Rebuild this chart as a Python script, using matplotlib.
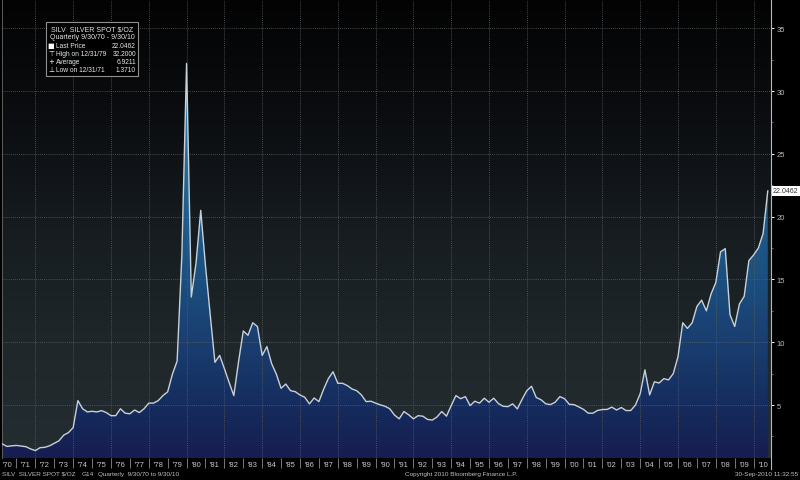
"""
Silver spot price, quarterly 1970-2010, Bloomberg terminal look.
"""
import numpy as np
import matplotlib.pyplot as plt
from matplotlib.colors import LinearSegmentedColormap
from matplotlib.patches import Rectangle
from matplotlib.lines import Line2D
from matplotlib.ticker import FixedLocator, NullFormatter

plt.rcParams['font.family'] = ['Liberation Sans', 'DejaVu Sans']

# quarter ends as decimal years (1970.25 = 3/31/70 ... 2010.75 = 9/30/10)
quarter_ends = np.arange(1970.25, 2010.76, 0.25)
silver_price = [
    1.90, 1.70, 1.75,
    1.78, 1.73, 1.68, 1.50,      # 1971
    1.371, 1.60, 1.63, 1.75,     # 1972
    1.95, 2.15, 2.60, 2.80,      # 1973
    3.20, 5.35, 4.70, 4.45,      # 1974
    4.50, 4.45, 4.55, 4.40,      # 1975
    4.15, 4.15, 4.70, 4.35,      # 1976
    4.30, 4.60, 4.40, 4.70,      # 1977
    5.15, 5.15, 5.35, 5.75,      # 1978
    6.05, 7.45, 8.50, 16.90,     # 1979
    32.20, 13.60, 16.30, 20.50,  # 1980
    16.10, 12.20, 8.40, 8.95,    # 1981
    7.90, 6.80, 5.75, 8.45,      # 1982
    10.90, 10.55, 11.55, 11.25,  # 1983
    8.95, 9.65, 8.30, 7.45,      # 1984
    6.33, 6.67, 6.14, 6.06,      # 1985
    5.80, 5.62, 5.09, 5.56,      # 1986
    5.27, 6.25, 7.10, 7.65,      # 1987
    6.73, 6.73, 6.55, 6.28,      # 1988
    6.14, 5.80, 5.27, 5.30,      # 1989
    5.15, 5.01, 4.90, 4.70,      # 1990
    4.20, 3.90, 4.48, 4.22,      # 1991
    3.90, 4.15, 4.11, 3.85,      # 1992
    3.80, 4.05, 4.48, 4.11,      # 1993
    4.95, 5.75, 5.50, 5.67,      # 1994
    4.95, 5.30, 5.15, 5.54,      # 1995
    5.22, 5.54, 5.11, 4.90,      # 1996
    4.87, 5.09, 4.69, 5.45,      # 1997
    6.14, 6.49, 5.60, 5.42,      # 1998
    5.10, 5.03, 5.22, 5.67,      # 1999
    5.50, 5.05, 5.03, 4.85,      # 2000
    4.65, 4.35, 4.35, 4.57,      # 2001
    4.64, 4.65, 4.83, 4.60,      # 2002
    4.80, 4.56, 4.56, 5.00,      # 2003
    5.90, 7.80, 5.80, 6.85,      # 2004
    6.75, 7.10, 7.00, 7.50,      # 2005
    8.85, 11.55, 11.10, 11.55,   # 2006
    12.85, 13.35, 12.50, 13.85,  # 2007
    14.75, 17.20, 17.45, 12.20,  # 2008
    11.25, 13.05, 13.65, 16.50,  # 2009
    16.95, 17.50, 18.65, 22.0462,  # 2010
]

label_years = np.arange(1970, 2011)
year_labels = ["'%02d" % (y % 100) for y in label_years]
grid_years = np.arange(1972, 2011, 2)
price_ticks = [5, 10, 15, 20, 25, 30, 35]

legend_title = 'SILV  SILVER SPOT $/OZ'
legend_period = 'Quarterly 9/30/70 - 9/30/10'
legend_rows = [('\u25A0', 'Last Price', '22.0462'),
               ('\u22A4', 'High on 12/31/79', '32.2000'),
               ('+', 'Average', '6.9211'),
               ('\u22A5', 'Low on 12/31/71', '1.3710')]
last_price = 22.0462

xmin, xmax = 1970.235, 2010.92
ymin, ymax = 0.78, 37.29

fig = plt.figure(figsize=(8.0, 4.81), dpi=100, facecolor='black')
ax = fig.add_axes([2/800, 22/481, 769/800, 458.5/481])
ax.set_facecolor('black')

# background gradient (black at top, dark slate at bottom)
bg_cmap = LinearSegmentedColormap.from_list(
    'bg', [(0, '#242d31'), (0.25, '#1f272b'), (0.5, '#161c20'),
           (0.75, '#0b0d10'), (1, '#030303')])
grad = np.linspace(0, 1, 256).reshape(-1, 1)
ax.imshow(grad, cmap=bg_cmap, origin='lower', aspect='auto',
          extent=[xmin, xmax, ymin, ymax], zorder=0)

# area fill, blue gradient clipped to the series
fill_cmap = LinearSegmentedColormap.from_list(
    'fill', [(0, '#171d50'), (0.1, '#152a5c'), (0.25, '#1a3e70'),
             (0.4, '#1b5080'), (0.55, '#1e5f8e'), (0.75, '#2a7aa6'),
             (0.9, '#5a96b8'), (1, '#8fb0c8')])
poly = ax.fill_between(quarter_ends, ymin, silver_price,
                       facecolor='none', edgecolor='none')
img = ax.imshow(grad, cmap=fill_cmap, origin='lower', aspect='auto',
                extent=[xmin, xmax, ymin, ymax], zorder=1)
img.set_clip_path(poly.get_paths()[0], ax.transData)

ax.plot(quarter_ends, silver_price, color='#c8d0d8', lw=1.0, zorder=3)

# grid
for gy in grid_years:
    ax.axvline(gy, color='#5a6064', lw=0.6, ls=(0, (1, 1.5)), zorder=2)
for py in price_ticks:
    ax.axhline(py, color='#5a6064', lw=0.6, ls=(0, (1, 1.5)), zorder=2)

ax.set_xlim(xmin, xmax)
ax.set_ylim(ymin, ymax)

# x axis: labels mid-year, separators at year boundaries
ax.xaxis.set_major_locator(FixedLocator(label_years + 0.5))
ax.set_xticklabels(year_labels)
ax.xaxis.set_minor_locator(FixedLocator(label_years[1:]))
ax.xaxis.set_minor_formatter(NullFormatter())
ax.tick_params(axis='x', which='major', length=0, pad=2.5,
               labelsize=5.5, labelcolor='#c8c8c8')
ax.tick_params(axis='x', which='minor', length=7, width=0.6,
               color='#8a8a8a', direction='out')

# y axis on the right
ax.yaxis.tick_right()
ax.yaxis.set_major_locator(FixedLocator(price_ticks))
ax.yaxis.set_minor_locator(FixedLocator(np.arange(2.5, 37, 5)))
ax.tick_params(axis='y', which='major', length=2.5, width=0.7,
               color='white', pad=1.5, labelsize=5.5, labelcolor='#bcbcbc')
ax.tick_params(axis='y', which='minor', length=1.5, width=0.5,
               color='#909090')

for side in ['top', 'bottom']:
    ax.spines[side].set_visible(False)
ax.spines['right'].set_color('#b8b8b8')
ax.spines['right'].set_linewidth(0.8)
ax.spines['left'].set_color('#6a6a6a')
ax.spines['left'].set_linewidth(0.6)
fig.add_artist(Line2D([771/800, 771/800], [11/481, 22/481],
                      color='#b8b8b8', lw=0.8))

# last price tag
ax.annotate('%.4f' % last_price, xy=(1.0, last_price),
            xycoords=('axes fraction', 'data'), xytext=(1.5, 0),
            textcoords='offset points', ha='left', va='center',
            fontsize=5, color='#303030', annotation_clip=False,
            bbox=dict(boxstyle='square,pad=0.2', fc='white', ec='none'))

# legend box
fig.add_artist(Rectangle((45.7/800, 1 - 76.7/481), 92.6/800, 54/481,
                         transform=fig.transFigure, fc='black', alpha=0.85,
                         ec='#a8a8a8', lw=0.8))
tc = '#e6e6e6'
fig.text(92/800, 1 - 29.5/481, legend_title, fontsize=5.0, color=tc,
         ha='center', va='center')
fig.text(92/800, 1 - 37.5/481, legend_period, fontsize=5.0, color=tc,
         ha='center', va='center')
for k, (mark, name, val) in enumerate(legend_rows):
    yy = 1 - (46 + k * 8.1) / 481
    fig.text(51/800, yy, mark, fontsize=5.0, color='white',
             ha='center', va='center', family=['DejaVu Sans'])
    fig.text(55.5/800, yy, name, fontsize=4.8, color=tc, ha='left',
             va='center')
    fig.text(136/800, yy, val, fontsize=4.8, color=tc, ha='right',
             va='center')

# footer
fc = '#c0c0c0'
ff = 4.6
fig.text(2/800, 4/481, 'SILV  SILVER SPOT $/OZ', fontsize=ff, color=fc,
         ha='left', va='bottom')
fig.text(82/800, 4/481, 'G14', fontsize=ff, color=fc, ha='left',
         va='bottom')
fig.text(98/800, 4/481, 'Quarterly  9/30/70 to 9/30/10', fontsize=ff,
         color=fc, ha='left', va='bottom')
fig.text(405/800, 4/481, 'Copyright 2010 Bloomberg Finance L.P.',
         fontsize=ff, color=fc, ha='left', va='bottom')
fig.text(798/800, 4/481, '30-Sep-2010 11:32:55', fontsize=ff, color=fc,
         ha='right', va='bottom')

fig.savefig('out.png', dpi=100, facecolor='black')
